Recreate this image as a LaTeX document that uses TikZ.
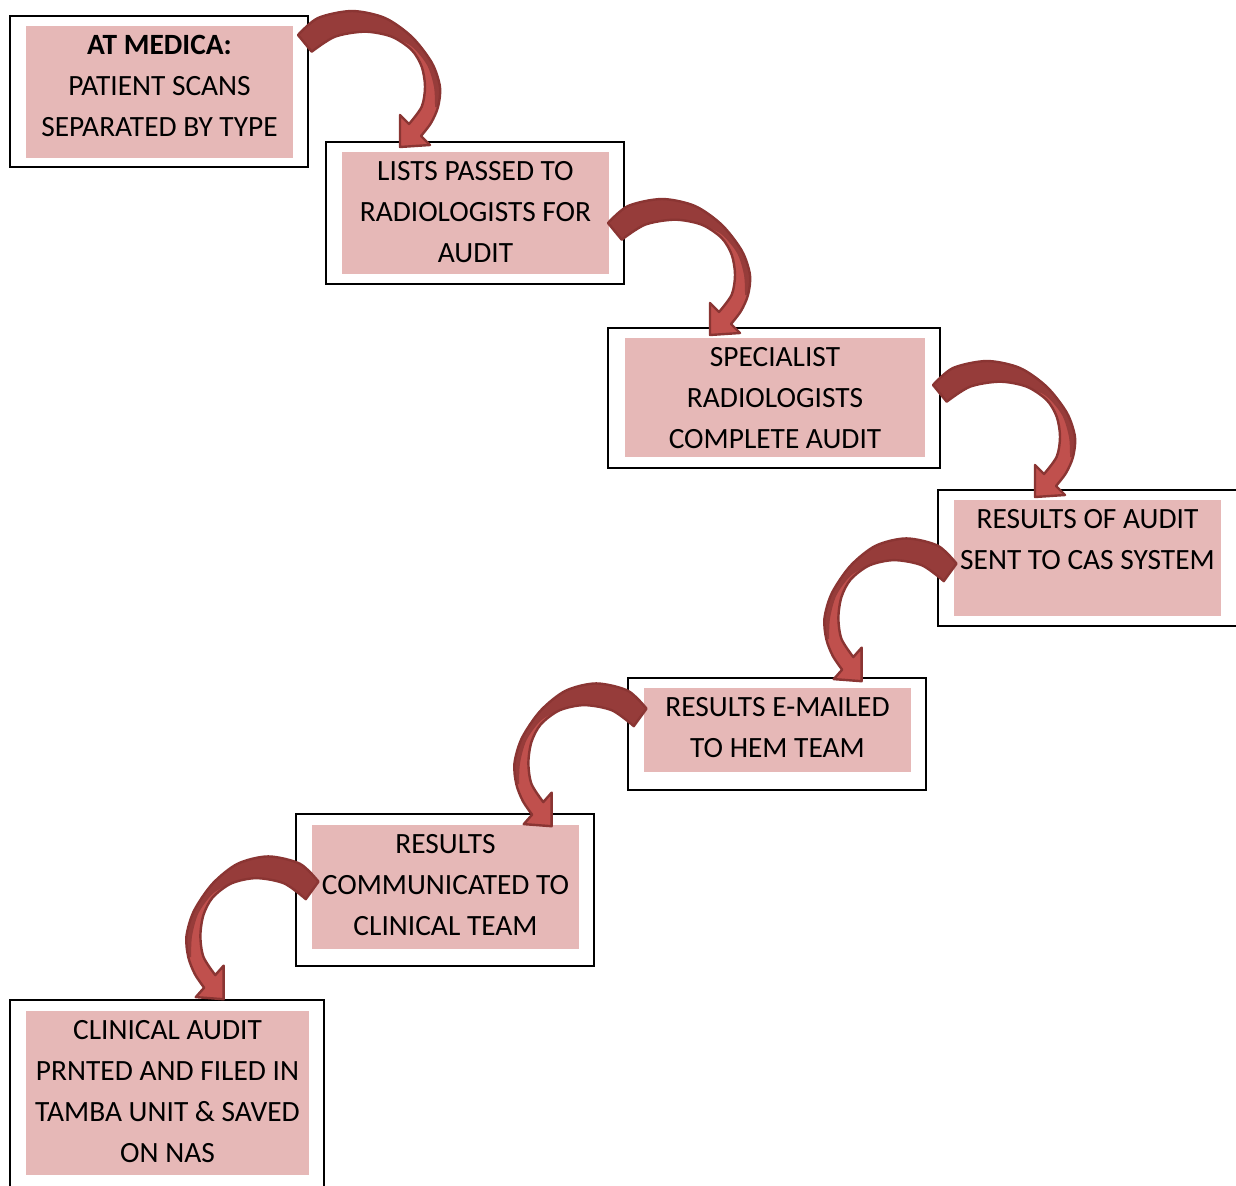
\documentclass[tikz,border=0pt]{standalone}
\usepackage{fontspec}
\setmainfont{Carlito}
\usetikzlibrary{positioning,fit}
\definecolor{boxpink}{HTML}{E6B8B7}
\definecolor{arrowdark}{HTML}{963C3A}
\definecolor{arrowlight}{HTML}{C0504D}
\definecolor{arrowline}{HTML}{8A3533}

% curved block arrow, tail at #1
\newcommand{\bendarrow}[2]{%
  \begin{scope}[shift={(#1)},#2]
    \path[save path=\arrowpath] plot[smooth] coordinates {(-7,-8) (13,-25) (47,-32) (80,-25) (107,-6) (127,20) (135,44) (133,64) (126,80) (116,93)}
      -- (125,102) -- (95,104) -- (95,72) -- plot[smooth] coordinates {(104,81) (116.7,63.7) (120,43.7) (116.7,23.7) (106.7,7) (86.7,-6.3) (60,-11.3) (30,-6.3) (6.7,8.7)} -- cycle;
    \fill[arrowlight, use path=\arrowpath];
    \begin{scope}
      \clip[use path=\arrowpath];
      \fill[arrowdark] (-20,25) -- (-20,-50) -- (150,-50) -- (150,64) -- plot[smooth] coordinates {(130,64) (129,44) (122,22) (106,3) (84,-7) (62,-10)} -- (40,25) -- cycle;
    \end{scope}
    \draw[arrowline, line width=1.2pt, line join=round, use path=\arrowpath];
  \end{scope}}

\begin{document}
\begin{tikzpicture}[x=0.5pt,y=-0.5pt]
	\tikzstyle{framebox} = [draw=black, line width=0.7pt, fill=white, inner sep=0]
	\tikzstyle{pinkbox} = [fill=boxpink, inner sep=0]
	\tikzstyle{steptext} = [align=center, inner xsep=0pt, inner ysep=4.8pt, font=\fontsize{14.7pt}{20.5pt}\selectfont]
	\useasboundingbox (0,0) rectangle (1236,1185);
	
	\node[framebox, fit={(10,16) (308,167)}] (o1) {};
	\node[pinkbox, fit={(26,26) (293,158)}] (p1) {};
	\node[steptext, below=0pt of p1.north] (t1) {\textbf{AT MEDICA:}\\PATIENT SCANS\\SEPARATED BY TYPE};
	
	\node[framebox, fit={(326,142) (624,284)}] (o2) {};
	\node[pinkbox, fit={(342,152) (609,274)}] (p2) {};
	\node[steptext, below=0pt of p2.north] (t2) {LISTS PASSED TO\\RADIOLOGISTS FOR\\AUDIT};
	
	\node[framebox, fit={(608,328) (940,468)}] (o3) {};
	\node[pinkbox, fit={(625,338) (925,457)}] (p3) {};
	\node[steptext, below=0pt of p3.north] (t3) {SPECIALIST\\RADIOLOGISTS\\COMPLETE AUDIT};
	
	\node[framebox, fit={(938,490) (1242,626)}] (o4) {};
	\node[pinkbox, fit={(954,500) (1221,616)}] (p4) {};
	\node[steptext, below=0pt of p4.north] (t4) {RESULTS OF AUDIT\\SENT TO CAS SYSTEM};
	
	\node[framebox, fit={(628,678) (926,790)}] (o5) {};
	\node[pinkbox, fit={(644,688) (911,772)}] (p5) {};
	\node[steptext, below=0pt of p5.north] (t5) {RESULTS E-MAILED\\TO HEM TEAM};
	
	\node[framebox, fit={(296,814) (594,966)}] (o6) {};
	\node[pinkbox, fit={(312,825) (579,949)}] (p6) {};
	\node[steptext, below=0pt of p6.north] (t6) {RESULTS\\COMMUNICATED TO\\CLINICAL TEAM};
	
	\node[framebox, fit={(10,1000) (324,1195)}] (o7) {};
	\node[pinkbox, fit={(26,1011) (309,1175)}] (p7) {};
	\node[steptext, below=0pt of p7.north] (t7) {CLINICAL AUDIT\\PRNTED AND FILED IN\\TAMBA UNIT \& SAVED\\ON NAS};
	
	% arrow tails
	\coordinate (a1) at (305,43);
	\coordinate (a2) at (615,231);
	\coordinate (a3) at (940,393);
	\coordinate (a4) at (950,572);
	\coordinate (a5) at (640,717);
	\coordinate (a6) at (312,890);
	
	\bendarrow{a1}{}
	\bendarrow{a2}{}
	\bendarrow{a3}{}
	\bendarrow{a4}{xscale=-0.93,yscale=1.05}
	\bendarrow{a5}{xscale=-0.93,yscale=1.05}
	\bendarrow{a6}{xscale=-0.93,yscale=1.05}
\end{tikzpicture}
\end{document}
